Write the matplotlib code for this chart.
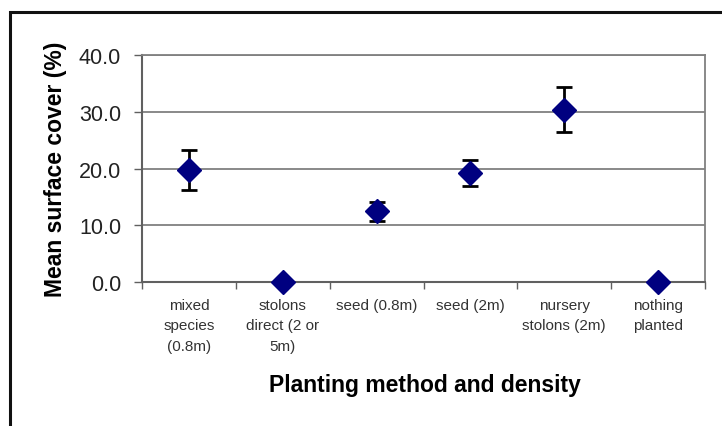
import matplotlib.pyplot as plt
from matplotlib.patches import Rectangle

# Data
categories = ['mixed\nspecies\n(0.8m)', 'stolons\ndirect (2 or\n5m)', 'seed (0.8m)',
              'seed (2m)', 'nursery\nstolons (2m)', 'nothing\nplanted']
mean_cover = [19.8, 0.0, 12.5, 19.3, 30.4, 0.0]
error = [3.5, 0.0, 1.7, 2.3, 3.9, 0.0]
y_ticks = [0, 10, 20, 30, 40]

plt.rcParams['font.family'] = ['Liberation Sans', 'DejaVu Sans']

fig = plt.figure(figsize=(7.22, 4.27), dpi=100)
ax = fig.add_axes([142 / 722, 1 - 283.3 / 427, 563 / 722, 227.3 / 427])

x = list(range(len(categories)))
ax.errorbar(x, mean_cover, yerr=error, fmt='none', ecolor='black',
            elinewidth=2, capsize=6, capthick=2, zorder=3)
ax.plot(x, mean_cover, linestyle='none', marker='D', markersize=12.5,
        color='#000080', zorder=4, clip_on=False)

ax.set_xlim(-0.5, len(categories) - 0.5)
ax.set_ylim(0, 40)
ax.set_yticks(y_ticks)
ax.set_yticklabels([f'{v:.1f}' for v in y_ticks], fontsize=15.5)
ax.yaxis.grid(True, color='#808080', linewidth=1.3)
ax.set_axisbelow(True)

# category boundaries get tick marks, centres get the labels
ax.set_xticks([i - 0.5 for i in range(len(categories) + 1)])
ax.set_xticklabels([])
ax.set_xticks(x, categories, minor=True)
ax.tick_params(axis='x', which='minor', length=0, labelsize=11, pad=11)
ax.tick_params(axis='x', which='major', length=5, width=1, color='#606060')
ax.tick_params(axis='y', length=6, width=1, color='#606060', pad=9,
               labelcolor='#222222')
for lbl in ax.get_xticklabels(minor=True):
    lbl.set_linespacing(1.6)
    lbl.set_color('#333333')

for side in ['left', 'bottom']:
    ax.spines[side].set_color('#606060')
    ax.spines[side].set_linewidth(1.5)
for side in ['right', 'top']:
    ax.spines[side].set_color('#808080')
    ax.spines[side].set_linewidth(1.3)

ax.set_ylabel('Mean surface cover (%)', fontsize=16.5, fontweight='bold')
ax.yaxis.set_label_coords(-0.133, 0.5)
ax.set_xlabel('Planting method and density', fontsize=16.5, fontweight='bold')
ax.xaxis.set_label_coords(0.503, -0.40)

# outer chart frame (runs off the right and bottom edges)
fig.patches.append(Rectangle((9.5 / 722, -0.1), 1.1, (427 - 12.5) / 427 + 0.1,
                             transform=fig.transFigure, fill=False,
                             edgecolor='#111111', linewidth=2.2, clip_on=False))

fig.savefig('out.png', dpi=100)
